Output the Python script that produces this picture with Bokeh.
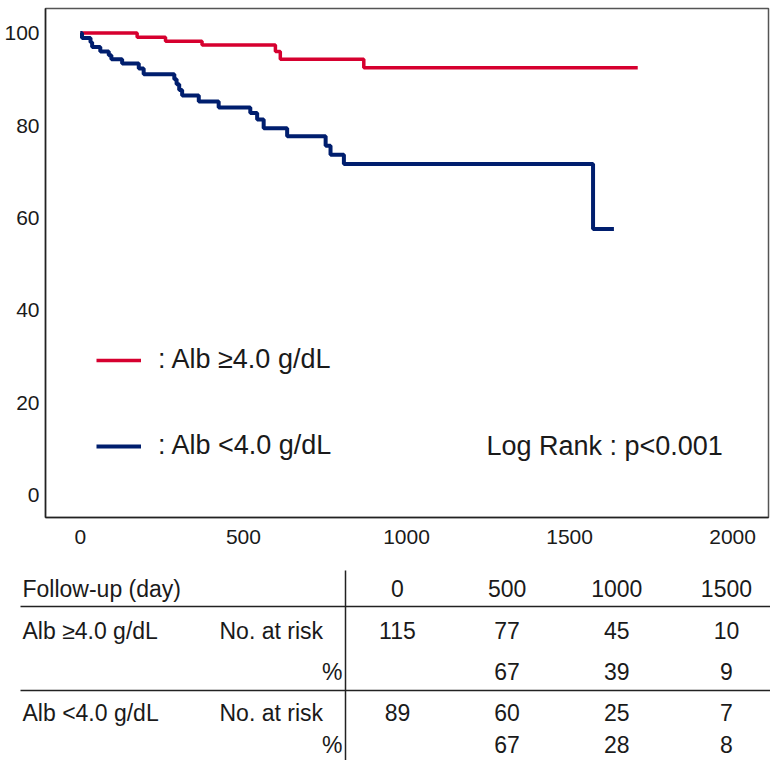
from bokeh.plotting import figure
from bokeh.models import Range1d, FixedTicker, Legend, LegendItem, Label
from bokeh.layouts import column
from bokeh.embed import file_html
from bokeh.resources import INLINE
from bokeh.core.properties import value

# ---------------- data ----------------
# Kaplan-Meier curves (day, survival %)
HIGH_DAYS = [0, 174, 261, 373, 598, 613, 869, 1709]
HIGH_SURV = [100, 99.1, 98.2, 97.4, 96.0, 94.3, 92.5, 92.5]

LOW_DAYS = [0, 5, 31, 36, 61, 87, 95, 128, 179, 194, 288, 295, 303, 312,
            363, 424, 521, 542, 562, 634, 752, 767, 808, 1572, 1636]
LOW_SURV = [100, 98.9, 98.0, 97.0, 96.0, 95.2, 94.3, 93.4, 92.3, 91.1, 90.0, 88.9, 87.7, 86.5,
            85.2, 83.9, 82.7, 81.3, 79.4, 77.7, 75.6, 73.7, 71.7, 57.6, 57.6]

HIGH_LABEL = ": Alb \u22654.0 g/dL"
LOW_LABEL = ": Alb <4.0 g/dL"
LOGRANK_TEXT = "Log Rank : p<0.001"

X_TICKS = [0, 500, 1000, 1500, 2000]
Y_TICKS = [0, 20, 40, 60, 80, 100]

# number-at-risk table
FOLLOW_UP = [0, 500, 1000, 1500]
HIGH_AT_RISK = [115, 77, 45, 10]
HIGH_PCT = [67, 39, 9]
LOW_AT_RISK = [89, 60, 25, 7]
LOW_PCT = [67, 28, 8]
TABLE_HEADER = "Follow-up (day)"
HIGH_ROW = "Alb \u22654.0 g/dL"
LOW_ROW = "Alb <4.0 g/dL"
RISK_TEXT = "No. at risk"
PCT_TEXT = "%"

FONT = "Liberation Sans"
RED = "#D6002F"
BLUE = "#001E6E"
TXT = "#1a1a1a"

# ---------------- survival chart ----------------
p = figure(width=770, height=555,
           x_range=Range1d(-107, 2110), y_range=Range1d(-4.76, 105.3),
           output_backend="svg", toolbar_location=None,
           min_border_left=45, min_border_right=2, min_border_top=8, min_border_bottom=38)
p.frame_align = False
p.grid.visible = False
p.outline_line_color = "#555555"
p.outline_line_width = 1.5

r_high = p.step(HIGH_DAYS, HIGH_SURV, mode="after", line_color=RED, line_width=3.5)
r_low = p.step(LOW_DAYS, LOW_SURV, mode="after", line_color=BLUE, line_width=4)

p.xaxis.ticker = FixedTicker(ticks=X_TICKS)
p.yaxis.ticker = FixedTicker(ticks=Y_TICKS)
for ax in (p.xaxis, p.yaxis):
    ax.major_tick_line_color = None
    ax.minor_tick_line_color = None
    ax.axis_line_color = "#222222"
    ax.axis_line_width = 1.5
    ax.major_label_text_font = FONT
    ax.major_label_text_font_size = "21px"
    ax.major_label_text_color = TXT
p.yaxis.major_label_standoff = 0
p.xaxis.major_label_standoff = 6

legend = Legend(items=[LegendItem(label=HIGH_LABEL, renderers=[r_high]),
                       LegendItem(label=LOW_LABEL, renderers=[r_low])],
                location=(51, 56), glyph_width=45, glyph_height=28, label_height=28,
                spacing=55, padding=0, margin=0, label_standoff=17,
                border_line_color=None, background_fill_alpha=0,
                label_text_font=FONT, label_text_font_size="27px", label_text_color=TXT)
p.add_layout(legend)

p.add_layout(Label(x=1245, y=10.8, text=LOGRANK_TEXT, text_baseline="middle",
                   text_font=FONT, text_font_size="27px", text_color=TXT))

# ---------------- at-risk table ----------------
t = figure(width=770, height=205,
           x_range=Range1d(0, 770), y_range=Range1d(760, 555),
           output_backend="svg", toolbar_location=None,
           x_axis_location=None, y_axis_location=None,
           min_border=0, min_border_left=0, min_border_right=0,
           min_border_top=0, min_border_bottom=0)
t.frame_align = False
t.extra_x_ranges = {"days": Range1d(-1810, 1701)}
t.outline_line_color = None
t.grid.visible = False

tf = dict(text_font=value(FONT), text_font_size=value("23px"), text_color=TXT,
          text_baseline="middle")

# rules
t.segment(x0=[20, 20, 345], y0=[606, 690, 570], x1=[770, 770, 345], y1=[606, 690, 760],
          line_color="#222222", line_width=1.5)

# row labels
t.text(x=[22, 22, 22], y=[588, 630, 712], text=[TABLE_HEADER, HIGH_ROW, LOW_ROW],
       text_align="left", **tf)
t.text(x=[219, 219], y=[630, 712], text=[RISK_TEXT, RISK_TEXT], text_align="left", **tf)
t.text(x=[342, 342], y=[671, 744], text=[PCT_TEXT, PCT_TEXT], text_align="right", **tf)

# numbers
t.text(x=FOLLOW_UP, y=[588] * len(FOLLOW_UP), text=[str(v) for v in FOLLOW_UP],
       x_range_name="days", text_align="center", **tf)
t.text(x=FOLLOW_UP, y=[630] * len(FOLLOW_UP), text=[str(v) for v in HIGH_AT_RISK],
       x_range_name="days", text_align="center", **tf)
t.text(x=FOLLOW_UP[1:], y=[671] * len(HIGH_PCT), text=[str(v) for v in HIGH_PCT],
       x_range_name="days", text_align="center", **tf)
t.text(x=FOLLOW_UP, y=[712] * len(FOLLOW_UP), text=[str(v) for v in LOW_AT_RISK],
       x_range_name="days", text_align="center", **tf)
t.text(x=FOLLOW_UP[1:], y=[744] * len(LOW_PCT), text=[str(v) for v in LOW_PCT],
       x_range_name="days", text_align="center", **tf)

layout = column(p, t, spacing=0)
open("out.html", "w").write(file_html(layout, INLINE))
